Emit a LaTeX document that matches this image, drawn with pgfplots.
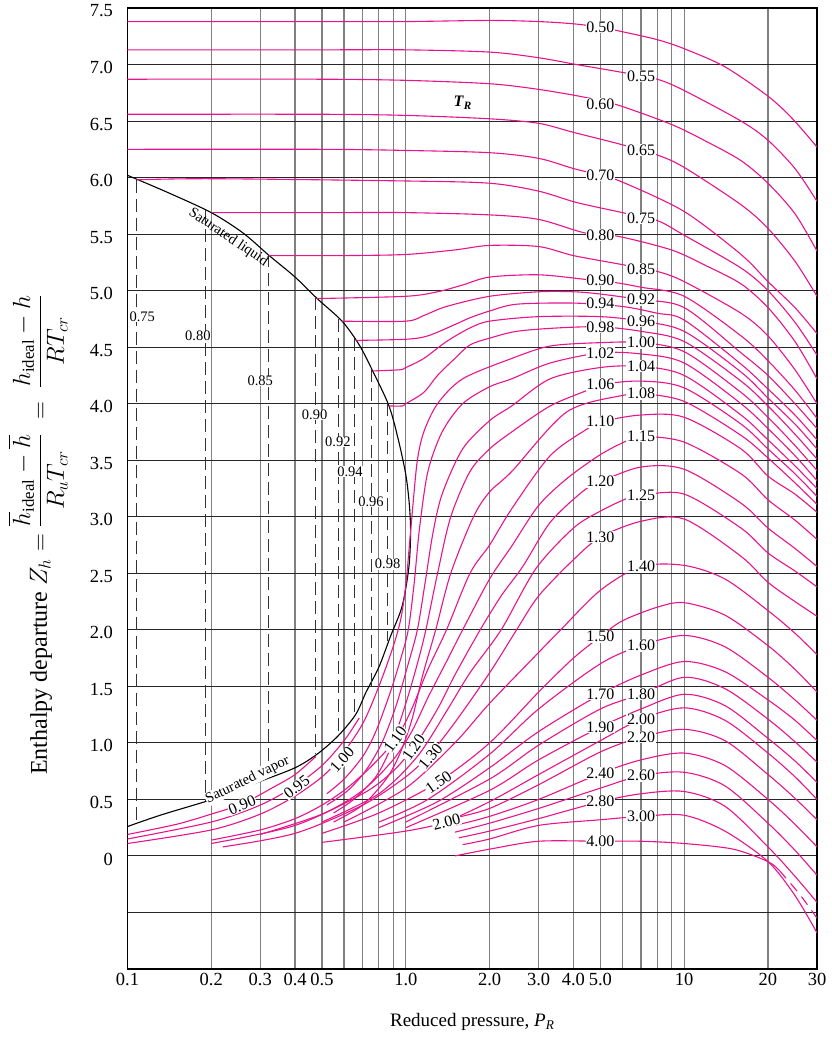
\documentclass[border=0pt]{standalone}
\usepackage{amsmath}
\usepackage{fontspec}
\setmainfont{Liberation Serif}
\usepackage{pgfplots}
\pgfplotsset{compat=1.18}
\definecolor{pk}{RGB}{232,20,140}
\tikzset{
  tr/.style={pk, line width=1.1bp, smooth, tension=0.5},
  tie/.style={black!80, line width=1.1bp, dash pattern=on 13bp off 6bp},
  lab/.style={fill=white, inner sep=0.6bp, font=\fontsize{16bp}{16bp}\selectfont},
  slab/.style={fill=white, inner sep=0.4bp, font=\fontsize{14.5bp}{14.5bp}\selectfont},
}
\begin{document}
\begin{tikzpicture}
\useasboundingbox (-127.5bp,-73bp) rectangle (704.5bp,969bp);
\begin{axis}[
  xmode=log,
  scale only axis, width=689.5bp, height=961bp,
  xmin=0.1, xmax=30, ymin=-1, ymax=7.5,
  xtick={0.1,0.2,0.3,0.4,0.5,1,2,3,4,5,10,20,30},
  xticklabels={0.1,0.2,0.3,0.4,0.5,1.0,2.0,3.0,4.0,5.0,10,20,30},
  minor xtick={0.6,0.7,0.8,0.9,6,7,8,9},
  ytick={-0.5,0,0.5,1,1.5,2,2.5,3,3.5,4,4.5,5,5.5,6,6.5,7,7.5},
  yticklabels={,0,0.5,1.0,1.5,2.0,2.5,3.0,3.5,4.0,4.5,5.0,5.5,6.0,6.5,7.0,7.5},
  grid=both,
  major x grid style={black!50, line width=1.2bp},
  minor x grid style={black!50, line width=1.2bp},
  major y grid style={black!85, line width=0.9bp},
  major tick length=0pt, minor tick length=0pt,
  axis line style={black, line width=1.3bp},
  ticklabel style={font=\fontsize{18.5bp}{18.5bp}\selectfont},
  xticklabel style={yshift=-1bp},
  yticklabel style={xshift=-11bp, yshift=-3bp},
  xlabel={Reduced pressure, \textit{P}\textsubscript{\textit{R}}},
  xlabel style={font=\fontsize{19bp}{19bp}\selectfont, at={(axis description cs:0.5,-0.055)}, anchor=center},
  ylabel={Enthalpy departure $Z_h = \dfrac{\overline{h}_{\mathrm{ideal}}-\overline{h}}{R_u T_{cr}} \;=\; \dfrac{h_{\mathrm{ideal}}-h}{RT_{cr}}$},
  ylabel style={font=\fontsize{24bp}{24bp}\selectfont, at={(axis description cs:-0.13,0.452)}, anchor=center},
]

% saturation dome
\addplot[black, line width=1.1bp, smooth, tension=0.5] coordinates {
(0.1,6.02) (0.139,5.87) (0.2,5.69) (0.26,5.51) (0.323,5.31) (0.40,5.12) (0.48,4.93) (0.59,4.73) (0.68,4.52) (0.76,4.29) (0.87,3.98) (0.94,3.68) (1.0,3.37) (1.03,3.1) (1.04,2.85) (1.025,2.55) (0.97,2.21) (0.88,1.94) (0.8,1.67) (0.72,1.45) (0.66,1.25) (0.57,1.06) (0.48,0.9) (0.4,0.78) (0.3,0.66) (0.23,0.55) (0.19,0.48) (0.131,0.36) (0.1,0.26)};

% tie lines
\addplot[tie] coordinates {(0.108,5.98) (0.108,0.28)};
\addplot[tie] coordinates {(0.19,5.71) (0.19,0.49)};
\addplot[tie] coordinates {(0.32,5.32) (0.32,0.68)};
\addplot[tie] coordinates {(0.475,4.94) (0.475,0.9)};
\addplot[tie] coordinates {(0.575,4.75) (0.575,1.07)};
\addplot[tie] coordinates {(0.655,4.58) (0.655,1.22)};
\addplot[tie] coordinates {(0.755,4.31) (0.755,1.5)};
\addplot[tie] coordinates {(0.86,4.01) (0.86,1.9)};

% isotherms T_R
\addplot[tr] coordinates {(0.1,7.38) (0.5,7.38) (1,7.38) (2,7.39) (3,7.38) (4,7.36) (5,7.33) (6,7.29) (8,7.22) (10,7.14) (14,6.98) (20,6.72) (24.5,6.52) (30,6.27)};
\addplot[tr] coordinates {(0.1,7.13) (0.5,7.13) (1,7.13) (2,7.11) (3,7.06) (4.1,7.0) (6,6.93) (8,6.87) (10,6.77) (16,6.5) (20,6.33) (25,6.08) (30,5.79)};
\addplot[tr] coordinates {(0.1,6.87) (0.5,6.87) (1,6.86) (2,6.83) (3,6.78) (4.4,6.71) (5.8,6.64) (9,6.47) (12,6.32) (16,6.15) (20,5.95) (25,5.68) (30,5.35)};
\addplot[tr] coordinates {(0.1,6.56) (0.5,6.56) (1,6.55) (2,6.52) (3,6.48) (4,6.40) (6,6.29) (8,6.2) (10,6.09) (16,5.76) (20,5.55) (25,5.26) (30,4.95)};
\addplot[tr] coordinates {(0.1,6.25) (0.5,6.25) (1,6.24) (2,6.22) (3,6.17) (4,6.08) (5,6.02) (6,5.96) (10,5.7) (16,5.32) (20,5.08) (25,4.85) (30,4.62)};
\addplot[tr] coordinates {(0.108,5.98) (0.2,5.99) (1,5.97) (2,5.95) (3,5.88) (4.1,5.78) (6,5.69) (8,5.62) (10,5.49) (16,5.2) (20,5.0) (25,4.72) (30,4.43)};
\addplot[tr] coordinates {(0.2,5.69) (0.5,5.69) (1,5.69) (2,5.67) (3,5.63) (4.4,5.51) (5.8,5.48) (9,5.36) (12,5.22) (16,5.06) (20,4.85) (25,4.55) (30,4.22)};
\addplot[tr] coordinates {(0.323,5.31) (0.6,5.31) (1,5.32) (1.5,5.36) (2,5.40) (3,5.39) (4,5.31) (6,5.23) (8,5.17) (10,5.08) (16,4.8) (20,4.6) (25,4.3) (30,4.0)};
\addplot[tr] coordinates {(0.48,4.93) (1,4.95) (1.3,4.99) (1.6,5.05) (2,5.12) (3,5.14) (4.4,5.10) (5.7,5.07) (7,5.03) (10,4.95) (16,4.6) (20,4.38) (25,4.12) (30,3.87)};
\addplot[tr] coordinates {(0.59,4.73) (1,4.73) (1.16,4.78) (1.4,4.86) (2,4.95) (3,4.99) (4,4.99) (5,4.97) (7,4.92) (10,4.85) (16,4.45) (20,4.25) (25,4.0) (30,3.78)};
\addplot[tr] coordinates {(0.66,4.56) (1,4.57) (1.2,4.6) (1.5,4.7) (1.7,4.76) (2,4.82) (2.5,4.88) (4,4.89) (6,4.86) (8,4.80) (10,4.74) (16,4.35) (20,4.13) (25,3.9) (30,3.68)};
\addplot[tr] coordinates {(0.76,4.29) (0.95,4.30) (1.0,4.32) (1.16,4.40) (1.4,4.55) (1.7,4.67) (2,4.73) (3,4.77) (5,4.77) (7,4.73) (10,4.64) (16,4.28) (20,4.05) (25,3.82) (30,3.60)};
\addplot[tr] coordinates {(0.87,3.98) (0.97,3.98) (1.0,4.0) (1.16,4.10) (1.3,4.25) (1.5,4.40) (1.7,4.52) (2,4.58) (2.5,4.64) (3.5,4.67) (5,4.68) (7,4.64) (10,4.55) (16,4.2) (20,3.98) (25,3.73) (30,3.51)};
\addplot[tr] coordinates {(0.1,0.11) (0.2,0.23) (0.3,0.37) (0.4,0.53) (0.5,0.70) (0.58,0.87) (0.7,1.17) (0.8,1.5) (0.9,1.85) (0.96,2.1) (1.0,2.4) (1.03,2.75) (1.06,3.1) (1.1,3.5) (1.16,3.75) (1.3,4.0) (1.6,4.22) (2.4,4.40) (3.3,4.51) (5,4.54) (7,4.54) (10,4.46) (16,4.1) (20,3.88) (25,3.63) (30,3.41)};
\addplot[tr] coordinates {(0.52,0.55) (0.6,0.68) (0.7,0.88) (0.78,1.1) (0.88,1.45) (0.96,1.75) (1.02,2.0) (1.07,2.4) (1.12,2.9) (1.2,3.4) (1.35,3.75) (1.6,4.0) (2.0,4.15) (2.4,4.22) (3.3,4.36) (5,4.45) (7,4.44) (10,4.36) (16,4.0) (20,3.78) (25,3.54) (30,3.32)};
\addplot[tr] coordinates {(0.52,0.45) (0.62,0.58) (0.72,0.76) (0.82,1.0) (0.92,1.32) (1.02,1.7) (1.1,2.0) (1.17,2.4) (1.25,2.85) (1.35,3.2) (1.6,3.6) (2.0,3.85) (2.4,3.98) (3.3,4.22) (5,4.32) (7,4.33) (10,4.25) (16,3.9) (20,3.68) (25,3.45) (30,3.25)};
\addplot[tr] coordinates {(0.55,0.38) (0.65,0.5) (0.78,0.7) (0.88,0.95) (1.0,1.35) (1.1,1.7) (1.18,2.0) (1.3,2.5) (1.45,3.0) (1.7,3.4) (2.0,3.6) (2.4,3.75) (3.3,3.98) (4.5,4.12) (5,4.17) (7,4.2) (10,4.14) (16,3.82) (20,3.6) (25,3.38) (30,3.18)};
\addplot[tr] coordinates {(0.55,0.30) (0.7,0.45) (0.85,0.68) (0.95,0.9) (1.05,1.2) (1.15,1.6) (1.28,2.0) (1.45,2.5) (1.75,3.0) (2.0,3.22) (2.4,3.40) (3.8,3.93) (6.2,4.08) (7,4.09) (10,4.02) (16,3.72) (20,3.52) (25,3.3) (30,3.11)};
\addplot[tr] coordinates {(0.2,0.14) (0.3,0.23) (0.4,0.33) (0.5,0.45) (0.6,0.58) (0.7,0.72) (0.8,0.86) (0.93,1.05) (1.05,1.3) (1.2,1.65) (1.4,2.0) (1.7,2.5) (2.0,2.75) (2.4,3.07) (3.3,3.54) (4.5,3.78) (5,3.84) (7,3.9) (10,3.88) (16,3.6) (20,3.36) (25,3.2) (30,3.04)};
\addplot[tr] coordinates {(0.3,0.19) (0.5,0.37) (0.7,0.58) (0.9,0.85) (1.05,1.1) (1.2,1.4) (1.4,1.72) (1.6,2.0) (2.0,2.45) (2.4,2.74) (3.0,3.1) (3.8,3.34) (5,3.55) (6.2,3.67) (7,3.71) (10,3.66) (16,3.38) (20,3.15) (25,2.97) (30,2.80)};
\addplot[tr] coordinates {(0.2,0.11) (0.4,0.27) (0.7,0.55) (0.9,0.75) (1.08,0.98) (1.3,1.3) (1.5,1.6) (1.85,2.0) (2.2,2.3) (2.63,2.56) (3.3,2.95) (4.3,3.22) (5,3.31) (7,3.44) (10,3.42) (16,3.12) (20,2.9) (25,2.72) (30,2.56)};
\addplot[tr] coordinates {(0.5,0.3) (0.8,0.55) (1.1,0.88) (1.4,1.28) (1.7,1.62) (2.2,2.0) (2.93,2.54) (4,2.9) (5,3.05) (6.2,3.16) (7,3.19) (10,3.2) (16,2.9) (20,2.68) (25,2.52) (30,2.38)};
\addplot[tr] coordinates {(0.22,0.08) (0.4,0.2) (0.7,0.45) (1.0,0.7) (1.22,0.9) (1.5,1.18) (2.0,1.62) (2.5,2.0) (3,2.3) (4,2.62) (5,2.82) (7,2.96) (10,2.98) (16,2.65) (20,2.42) (25,2.25) (30,2.12)};
\addplot[tr] coordinates {(0.6,0.3) (1.0,0.6) (1.5,1.0) (2,1.35) (3,1.8) (3.6,2.0) (5,2.35) (7,2.56) (10,2.57) (14,2.45) (20,2.17) (25,1.97) (30,1.78)};
\addplot[tr] coordinates {(0.5,0.2) (0.8,0.38) (1.3,0.65) (2,1.0) (3,1.45) (4,1.75) (5,1.94) (6,2.08) (8,2.2) (10,2.24) (14,2.13) (20,1.86) (25,1.65) (30,1.45)};
\addplot[tr] coordinates {(0.8,0.3) (1.2,0.5) (2,0.9) (3,1.3) (5,1.7) (7,1.86) (10,1.95) (14,1.85) (20,1.58) (25,1.38) (30,1.20)};
\addplot[tr] coordinates {(0.8,0.25) (1.3,0.48) (2,0.78) (3,1.1) (5,1.43) (7,1.6) (10,1.72) (14,1.63) (20,1.38) (25,1.2) (30,1.02)};
\addplot[tr] coordinates {(1.0,0.3) (2,0.68) (3,0.98) (5,1.3) (7,1.43) (10,1.58) (14,1.48) (20,1.21) (25,1.01) (30,0.83)};
\addplot[tr] coordinates {(1.0,0.25) (2,0.58) (3,0.85) (5,1.14) (7,1.3) (10,1.43) (14,1.33) (20,1.04) (25,0.84) (30,0.65)};
\addplot[tr] coordinates {(0.5,0.12) (1.0,0.22) (1.38,0.30) (2,0.48) (3,0.72) (5,1.02) (7,1.21) (10,1.31) (14,1.2) (20,0.91) (25,0.7) (30,0.50)};
\addplot[tr] coordinates {(1.52,0.34) (2,0.42) (3,0.63) (5,0.92) (7,1.05) (10,1.12) (14,1.02) (20,0.72) (25,0.51) (30,0.32)};
\addplot[tr] coordinates {(1.5,0.27) (2,0.35) (3,0.5) (5,0.73) (7,0.85) (10,0.91) (14,0.8) (20,0.5) (25,0.28) (30,0.08)};
\addplot[tr] coordinates {(1.5,0.21) (2,0.29) (3,0.42) (5,0.60) (7,0.71) (10,0.74) (14,0.62) (20,0.29) (25,0.05) (30,-0.17)};
\addplot[tr] coordinates {(1.55,0.16) (2,0.22) (3,0.33) (5,0.48) (7,0.55) (10,0.57) (14,0.44) (20,0.08) (25,-0.18) (30,-0.41)};
\addplot[tr] coordinates {(1.6,0.1) (2,0.15) (3,0.27) (5,0.32) (7,0.35) (10,0.36) (14,0.22) (20,-0.05) (25,-0.35) (30,-0.68)};
\addplot[tr] coordinates {(1.5,0.0) (2,0.06) (3,0.13) (5,0.13) (7,0.13) (10,0.11) (15,0.06) (20,-0.05) (22,-0.13)};
\addplot[tr, dash pattern=on 10bp off 7bp] coordinates {(22,-0.13) (26,-0.34) (30,-0.55)};
% vapour-side subcritical isotherms
\addplot[tr] coordinates {(0.1,0.19) (0.15,0.28) (0.2,0.37) (0.258,0.46) (0.33,0.6) (0.4,0.72) (0.475,0.88)};
\addplot[tr] coordinates {(0.1,0.15) (0.2,0.3) (0.3,0.45) (0.4,0.62) (0.5,0.8) (0.6,1.02) (0.68,1.22)};

% labels, right columns
\node[lab] at (axis cs:5,7.33) {0.50};
\node[lab] at (axis cs:5,6.65) {0.60};
\node[lab] at (axis cs:5,6.02) {0.70};
\node[lab] at (axis cs:5,5.49) {0.80};
\node[lab] at (axis cs:5,5.09) {0.90};
\node[lab] at (axis cs:5,4.89) {0.94};
\node[lab] at (axis cs:5,4.68) {0.98};
\node[lab] at (axis cs:5,4.45) {1.02};
\node[lab] at (axis cs:5,4.17) {1.06};
\node[lab] at (axis cs:5,3.84) {1.10};
\node[lab] at (axis cs:5,3.31) {1.20};
\node[lab] at (axis cs:5,2.82) {1.30};
\node[lab] at (axis cs:5,1.94) {1.50};
\node[lab] at (axis cs:5,1.43) {1.70};
\node[lab] at (axis cs:5,1.14) {1.90};
\node[lab] at (axis cs:5,0.73) {2.40};
\node[lab] at (axis cs:5,0.48) {2.80};
\node[lab] at (axis cs:5,0.13) {4.00};
\node[lab] at (axis cs:7,6.9) {0.55};
\node[lab] at (axis cs:7,6.24) {0.65};
\node[lab] at (axis cs:7,5.64) {0.75};
\node[lab] at (axis cs:7,5.19) {0.85};
\node[lab] at (axis cs:7,4.92) {0.92};
\node[lab] at (axis cs:7,4.73) {0.96};
\node[lab] at (axis cs:7,4.54) {1.00};
\node[lab] at (axis cs:7,4.33) {1.04};
\node[lab] at (axis cs:7,4.09) {1.08};
\node[lab] at (axis cs:7,3.71) {1.15};
\node[lab] at (axis cs:7,3.19) {1.25};
\node[lab] at (axis cs:7,2.56) {1.40};
\node[lab] at (axis cs:7,1.86) {1.60};
\node[lab] at (axis cs:7,1.43) {1.80};
\node[lab] at (axis cs:7,1.21) {2.00};
\node[lab] at (axis cs:7,1.05) {2.20};
\node[lab] at (axis cs:7,0.71) {2.60};
\node[lab] at (axis cs:7,0.35) {3.00};
% labels on tie lines
\node[slab] at (axis cs:0.113,4.77) {0.75};
\node[slab] at (axis cs:0.179,4.6) {0.80};
\node[slab] at (axis cs:0.3,4.2) {0.85};
\node[slab] at (axis cs:0.47,3.9) {0.90};
\node[slab] at (axis cs:0.57,3.66) {0.92};
\node[slab] at (axis cs:0.63,3.40) {0.94};
\node[slab] at (axis cs:0.75,3.13) {0.96};
\node[slab] at (axis cs:0.86,2.58) {0.98};
% labels in the vapour region
\node[lab, rotate=22] at (axis cs:0.258,0.45) {0.90};
\node[lab, rotate=38] at (axis cs:0.405,0.61) {0.95};
\node[lab, rotate=48] at (axis cs:0.59,0.85) {1.00};
\node[lab, rotate=55] at (axis cs:0.916,1.03) {1.10};
\node[lab, rotate=55] at (axis cs:1.067,0.96) {1.20};
\node[lab, rotate=50] at (axis cs:1.226,0.88) {1.30};
\node[lab, rotate=35] at (axis cs:1.31,0.65) {1.50};
\node[lab, rotate=15] at (axis cs:1.40,0.30) {2.00};
\node[slab, fill=none, rotate=-34] at (axis cs:0.23,5.47) {Saturated liquid};
\node[slab, rotate=26] at (axis cs:0.27,0.67) {Saturated vapor};
\node[font=\fontsize{16bp}{16bp}\selectfont] at (axis cs:1.6,6.66) {\textbf{\textit{T}}\textsubscript{\textbf{\textit{R}}}};

\end{axis}
\end{tikzpicture}
\end{document}
